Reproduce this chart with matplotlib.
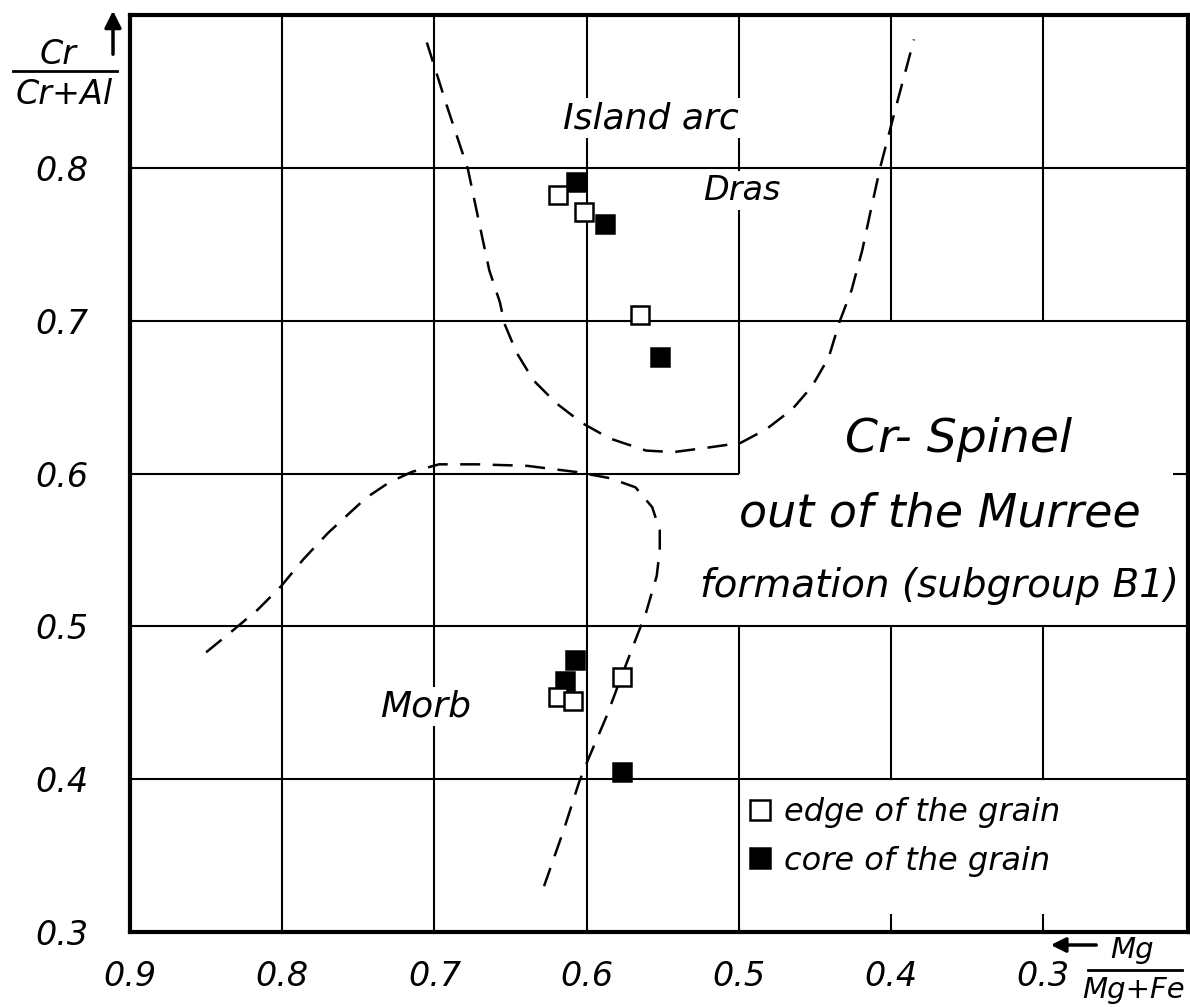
import matplotlib
matplotlib.use("Agg")
import matplotlib.pyplot as plt
from matplotlib.lines import Line2D

plt.rcParams['font.family'] = ['DejaVu Sans']
plt.rcParams['font.style'] = 'italic'

# ---------------- data ----------------
x_ticks = [0.9, 0.8, 0.7, 0.6, 0.5, 0.4, 0.3]
x_tick_labels = ["0.9", "0.8", "0.7", "0.6", "0.5", "0.4", "0.3"]
y_ticks = [0.3, 0.4, 0.5, 0.6, 0.7, 0.8]
y_tick_labels = ["0.3", "0.4", "0.5", "0.6", "0.7", "0.8"]

# edge of the grain (open squares)
edge_mg = [0.619, 0.602, 0.565, 0.619, 0.609, 0.577]
edge_cr = [0.782, 0.771, 0.704, 0.454, 0.451, 0.467]
# core of the grain (filled squares)
core_mg = [0.607, 0.588, 0.552, 0.608, 0.614, 0.577]
core_cr = [0.791, 0.763, 0.676, 0.478, 0.464, 0.405]

# Island arc field boundary (dashed)
arc_mg = [0.705, 0.692, 0.678, 0.670, 0.664, 0.657, 0.654, 0.646, 0.635,
          0.620, 0.603, 0.585, 0.561, 0.543, 0.520, 0.499, 0.482, 0.465,
          0.452, 0.441, 0.434, 0.426, 0.419, 0.413, 0.407, 0.396, 0.385]
arc_cr = [0.882, 0.841, 0.799, 0.761, 0.733, 0.712, 0.698, 0.679, 0.661,
          0.646, 0.633, 0.623, 0.615, 0.614, 0.617, 0.620, 0.629, 0.642,
          0.657, 0.676, 0.699, 0.720, 0.746, 0.774, 0.801, 0.843, 0.884]

# MORB field boundary (dashed)
morb_mg = [0.850, 0.834, 0.816, 0.801, 0.786, 0.770, 0.757, 0.745, 0.730,
           0.715, 0.697, 0.672, 0.639, 0.607, 0.585, 0.568, 0.557, 0.552,
           0.552, 0.554, 0.561, 0.568, 0.578, 0.587, 0.599, 0.605, 0.615,
           0.628]
morb_cr = [0.483, 0.496, 0.511, 0.526, 0.544, 0.561, 0.573, 0.584, 0.594,
           0.601, 0.606, 0.606, 0.605, 0.601, 0.597, 0.591, 0.578, 0.563,
           0.550, 0.533, 0.509, 0.491, 0.465, 0.441, 0.413, 0.398, 0.367,
           0.330]

# ---------------- figure ----------------
W, H = 1190, 1007
fig = plt.figure(figsize=(W / 100, H / 100), dpi=100)
ax = fig.add_axes([130 / W, 1 - 932 / H, (1188 - 130) / W, (932 - 15) / H])
ax.set_xlim(0.9, 0.205)
ax.set_ylim(0.3, 0.9)

for s in ax.spines.values():
    s.set_linewidth(3.0)

# grid segments (partial, as in the original diagram)
gl = dict(color='black', lw=1.5, zorder=1)
ax.vlines([0.8, 0.7, 0.6], 0.3, 0.9, **gl)
ax.vlines(0.5, 0.6, 0.9, **gl)
ax.vlines(0.5, 0.3, 0.5, **gl)
ax.vlines([0.4, 0.3], 0.7, 0.9, **gl)
ax.vlines([0.4, 0.3], 0.4, 0.5, **gl)
ax.vlines([0.4, 0.3], 0.3, 0.312, **gl)
ax.hlines([0.8, 0.7, 0.5, 0.4], 0.9, 0.205, **gl)
ax.hlines(0.6, 0.9, 0.5, **gl)
ax.hlines(0.6, 0.215, 0.205, **gl)

ax.set_xticks(x_ticks)
ax.set_xticklabels(x_tick_labels, fontsize=24)
ax.set_yticks(y_ticks)
ax.set_yticklabels(y_tick_labels, fontsize=24)
ax.tick_params(axis='both', length=0)
ax.tick_params(axis='x', pad=20)
ax.tick_params(axis='y', pad=30)

# dashed field boundaries
ax.plot(arc_mg, arc_cr, color='black', lw=1.8, ls=(0, (8, 5)), zorder=3)
ax.plot(morb_mg, morb_cr, color='black', lw=1.8, ls=(0, (8, 5)), zorder=3)

# points
h_edge, = ax.plot(edge_mg, edge_cr, ls='none', marker='s', ms=13, mfc='white',
                  mec='black', mew=1.8, zorder=5, label='edge of the grain')
h_core, = ax.plot(core_mg, core_cr, ls='none', marker='s', ms=13, mfc='black',
                  mec='black', mew=1.8, zorder=4, label='core of the grain')

# labels inside plot
bb = dict(facecolor='white', edgecolor='none', pad=2)
ax.text(0.558, 0.826, "Island arc", fontsize=26, ha='center', va='baseline', bbox=bb, zorder=2)
ax.text(0.498, 0.779, "Dras", fontsize=24, ha='center', va='baseline', bbox=bb, zorder=2)
ax.text(0.706, 0.441, "Morb", fontsize=26, ha='center', va='baseline', bbox=bb, zorder=2)
ax.text(0.356, 0.614, "Cr- Spinel", fontsize=34, ha='center', va='baseline', zorder=2)
ax.text(0.368, 0.565, "out of the Murree", fontsize=33, ha='center', va='baseline', zorder=2)
ax.text(0.368, 0.519, "formation (subgroup B1)", fontsize=28, ha='center', va='baseline', zorder=2)

# legend
leg = ax.legend(handles=[h_edge, h_core], loc='upper left',
                bbox_to_anchor=(744 / W, 1 - 797 / H), bbox_transform=fig.transFigure,
                frameon=False, fontsize=23, handlelength=1.0, handletextpad=0.25,
                borderpad=0, borderaxespad=0, labelspacing=0.55, markerscale=1.15,
                numpoints=1)

# y axis label as a fraction with arrow
fig.text(58 / W, 1 - 54 / H, "Cr", fontsize=24, ha='center', va='center')
fig.add_artist(Line2D([13 / W, 117 / W], [1 - 71 / H, 1 - 71 / H], color='black', lw=2,
                      transform=fig.transFigure))
fig.text(64 / W, 1 - 94 / H, "Cr+Al", fontsize=24, ha='center', va='center')
ax.annotate('', xy=(113 / W, 1 - 8 / H), xytext=(113 / W, 1 - 57 / H),
            xycoords='figure fraction', textcoords='figure fraction',
            arrowprops=dict(arrowstyle='-|>', lw=2.5, color='black', mutation_scale=25))

# x axis label as a fraction with arrow
fig.text(1132 / W, 1 - 950 / H, "Mg", fontsize=21, ha='center', va='center')
fig.add_artist(Line2D([1088 / W, 1182 / W], [1 - 970 / H, 1 - 970 / H], color='black', lw=2,
                      transform=fig.transFigure))
fig.text(1134 / W, 1 - 990 / H, "Mg+Fe", fontsize=21, ha='center', va='center')
ax.annotate('', xy=(1048 / W, 1 - 945 / H), xytext=(1099 / W, 1 - 945 / H),
            xycoords='figure fraction', textcoords='figure fraction',
            arrowprops=dict(arrowstyle='-|>', lw=2.5, color='black', mutation_scale=22))

fig.savefig("out.png", dpi=100)
